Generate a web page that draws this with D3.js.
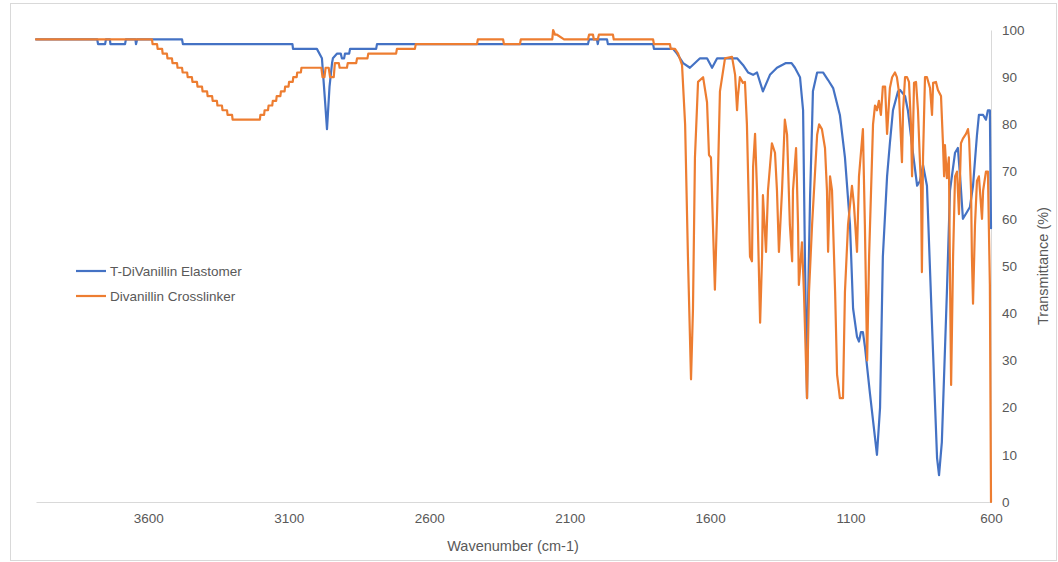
<!DOCTYPE html>
<html>
<head>
<meta charset="utf-8">
<script src="https://cdn.jsdelivr.net/npm/d3@7"></script>
<style>
  body { margin: 0; background: #fff; }
  svg { font-family: "Liberation Sans", Arial, sans-serif; }
</style>
</head>
<body>
<svg width="1058" height="562"></svg>
<script>
var seriesNames = ["T-DiVanillin Elastomer", "Divanillin Crosslinker"];
var xTicks = [3600, 3100, 2600, 2100, 1600, 1100, 600];
var yTicks = [0, 10, 20, 30, 40, 50, 60, 70, 80, 90, 100];

// T-DiVanillin Elastomer
var blueWn = [4000, 3782, 3779, 3754, 3751, 3737, 3735, 3683, 3680, 3646, 3644, 3640, 3480, 3477,
  3087, 3085, 3000, 2982, 2971, 2964, 2955, 2946, 2943, 2928, 2915, 2911, 2903, 2900, 2885, 2882,
  2789, 2786, 2035, 2031, 2003, 2000, 1997, 1967, 1964, 1803, 1800, 1732, 1718, 1696, 1672, 1654,
  1636, 1611, 1593, 1575, 1504, 1483, 1465, 1447, 1433, 1412, 1387, 1362, 1330, 1310, 1298, 1280,
  1269, 1262, 1255, 1252, 1244, 1237, 1234, 1219, 1198, 1180, 1162, 1138, 1120, 1102, 1091, 1077,
  1070, 1063, 1056, 1049, 1031, 1006, 995, 985, 970, 960, 949, 931, 924, 906, 896, 878, 863, 853,
  842, 828, 810, 792, 785, 775, 757, 746, 728, 718, 710, 700, 686, 675, 664, 650, 643, 628, 618,
  611, 604, 600];
var blueT = [98, 98, 97, 97, 98, 98, 97, 97, 98, 98, 97, 98, 98, 97,
  97, 96, 96, 94, 85, 79, 88, 93, 94, 95, 95, 94, 94, 95, 95, 96,
  96, 97, 97, 98, 98, 97, 98, 98, 97, 97, 96, 96, 95, 93, 92, 93,
  94, 94, 92, 94, 94, 92.6, 91, 90.5, 91, 87, 90.5, 92, 93, 93, 92, 90,
  83, 50, 22, 40, 65, 80, 87, 91, 91, 89.4, 87.7, 82, 73, 58.7, 41, 35,
  34, 36, 36, 33, 23, 10, 20, 52, 69, 76, 83, 87, 87.3, 86, 83, 74, 67, 68,
  71.4, 67, 37.5, 9.3, 5.7, 12.7, 44.5, 66, 74, 75, 69, 60, 61.4, 62.5, 67, 77.7, 82, 82, 81,
  83, 83, 58];

// Divanillin Crosslinker
var orangeWn = [4000, 3587, 3585, 3569, 3567, 3551, 3549, 3534, 3532, 3516, 3514, 3498, 3496,
  3480, 3478, 3462, 3460, 3445, 3443, 3427, 3425, 3409, 3407, 3391, 3389, 3373, 3371, 3356, 3354,
  3338, 3336, 3320, 3318, 3302, 3300, 3203, 3201, 3188, 3186, 3174, 3172, 3159, 3157, 3145, 3143,
  3130, 3128, 3115, 3113, 3101, 3099, 3086, 3084, 3072, 3070, 3057, 3055, 2984, 2980, 2973, 2969,
  2958, 2953, 2940, 2936, 2922, 2919, 2893, 2890, 2860, 2857, 2820, 2817, 2718, 2715, 2651, 2648,
  2430, 2427, 2337, 2334, 2277, 2274, 2162, 2159, 2152, 2145, 2120, 2035, 2031, 2017, 2014, 2000,
  1996, 1946, 1943, 1803, 1800, 1743, 1740, 1725, 1714, 1700, 1689, 1679, 1668, 1661, 1654, 1643,
  1625, 1611, 1604, 1597, 1590, 1583, 1575, 1565, 1547, 1522, 1511, 1504, 1501, 1494, 1483, 1476,
  1469, 1458, 1451, 1447, 1440, 1433, 1422, 1415, 1412, 1401, 1394, 1380, 1369, 1362, 1355, 1344,
  1334, 1326, 1316, 1308, 1305, 1294, 1287, 1284, 1273, 1266, 1255, 1248, 1237, 1219, 1212, 1202,
  1191, 1184, 1180, 1173, 1166, 1155, 1148, 1138, 1127, 1120, 1109, 1095, 1088, 1077, 1070, 1056,
  1049, 1041, 1034, 1020, 1013, 1006, 999, 992, 985, 977, 970, 960, 952, 942, 935, 928, 917, 913,
  906, 899, 892, 885, 881, 874, 867, 860, 849, 846, 842, 835, 828, 817, 810, 806, 796, 789, 778,
  771, 767, 764, 757, 750, 746, 742, 735, 728, 721, 714, 707, 700, 689, 682, 678, 671, 668, 664,
  657, 650, 643, 632, 628, 618, 611, 604, 600];
var orangeT = [98, 98, 97, 97, 96, 96, 95, 95, 94, 94, 93, 93, 92,
  92, 91, 91, 90, 90, 89, 89, 88, 88, 87, 87, 86, 86, 85, 85, 84,
  84, 83, 83, 82, 82, 81, 81, 82, 82, 83, 83, 84, 84, 85, 85, 86,
  86, 87, 87, 88, 88, 89, 89, 90, 90, 91, 91, 92, 92, 90, 90, 92,
  92, 90, 90, 93, 93, 92, 92, 93, 93, 94, 94, 95, 95, 96, 96, 97,
  97, 98, 98, 97, 97, 98, 98, 100, 99, 99, 98, 98, 99, 99, 98, 98,
  99, 99, 98, 98, 97, 97, 96, 96, 95, 92.6, 80, 52, 26, 41, 73, 89,
  90, 84.7, 73.5, 73, 58.7, 45, 62, 87, 94, 94.3, 90.5, 83, 86, 90, 88.8, 89,
  80, 52, 51, 71, 78, 66, 38, 52, 65, 53, 66, 76, 74, 66, 53, 66,
  81, 77.8, 58.7, 51, 66, 75, 58.7, 46, 55, 44.5, 22, 44.5, 58.7, 77.8, 80, 79,
  75, 66, 53, 69, 66, 44.5, 27, 22, 22, 44.5, 58.7, 67, 63, 53, 69, 79,
  58.7, 30, 52, 80, 84, 83, 85, 82, 88, 88, 78, 87.7, 90, 91, 90, 87, 72, 83,
  90, 90, 89, 80, 69, 88.8, 89, 83, 66, 48.7, 73, 90, 90, 87.7, 82, 88.8, 89, 87.3, 86,
  76, 69, 75.6, 68.6, 73, 48, 24.8, 52, 69, 70, 61, 76, 77, 78, 79, 77, 66, 52, 42,
  58.7, 68, 69, 60, 66, 70, 70, 46, 0];

var colors = ["#4472C4", "#ED7D31"];
var textColor = "#595959";

var svg = d3.select("svg"),
    margin = {top: 30, right: 67, bottom: 60, left: 36},
    width = +svg.attr("width") - margin.left - margin.right,
    height = +svg.attr("height") - margin.top - margin.bottom;

// chart border
svg.append("rect")
    .attr("x", 10.5).attr("y", 3.5)
    .attr("width", 1046).attr("height", 557)
    .attr("fill", "none")
    .attr("stroke", "#d9d9d9");

var g = svg.append("g").attr("transform", "translate(" + margin.left + "," + margin.top + ")");

var x = d3.scaleLinear().domain([4000, 600]).range([0, width]);
var y = d3.scaleLinear().domain([0, 100]).range([height, 0]);

var xAxis = g.append("g")
    .attr("transform", "translate(0," + height + ")")
    .call(d3.axisBottom(x).tickValues(xTicks).tickFormat(d3.format("d")).tickSize(0).tickPadding(11));
xAxis.select(".domain").attr("stroke", "#d9d9d9");
xAxis.selectAll("text").attr("fill", textColor).style("font-size", "13.5px")
    .style("font-family", "'Liberation Sans', Arial, sans-serif");

var yAxis = g.append("g")
    .attr("transform", "translate(" + width + ",0)")
    .call(d3.axisRight(y).tickValues(yTicks).tickFormat(d3.format("d")).tickSize(0).tickPadding(11));
yAxis.select(".domain").attr("stroke", "#d9d9d9");
yAxis.selectAll("text").attr("fill", textColor).style("font-size", "13.5px")
    .style("font-family", "'Liberation Sans', Arial, sans-serif");

var series = [
  blueWn.map(function(d, i) { return [d, blueT[i]]; }),
  orangeWn.map(function(d, i) { return [d, orangeT[i]]; })
];

var line = d3.line()
    .x(function(d) { return x(d[0]); })
    .y(function(d) { return y(d[1]); });

g.selectAll(".series")
  .data(series)
  .enter().append("path")
    .attr("class", "series")
    .attr("d", line)
    .attr("fill", "none")
    .attr("stroke", function(d, i) { return colors[i]; })
    .attr("stroke-width", 2.2)
    .attr("stroke-linejoin", "round")
    .attr("stroke-linecap", "round");

// axis titles
svg.append("text")
    .attr("x", 513).attr("y", 551)
    .attr("text-anchor", "middle")
    .attr("fill", textColor)
    .style("font-size", "14.5px")
    .text("Wavenumber (cm-1)");

svg.append("text")
    .attr("transform", "translate(1048,266) rotate(-90)")
    .attr("text-anchor", "middle")
    .attr("fill", textColor)
    .style("font-size", "14.5px")
    .text("Transmittance (%)");

// legend
var legend = svg.selectAll(".legend")
  .data(seriesNames)
  .enter().append("g")
    .attr("class", "legend")
    .attr("transform", function(d, i) { return "translate(76," + (271 + i * 25) + ")"; });

legend.append("line")
    .attr("x1", 0).attr("x2", 30)
    .attr("stroke", function(d, i) { return colors[i]; })
    .attr("stroke-width", 2.2);

legend.append("text")
    .attr("x", 34).attr("dy", "0.35em")
    .attr("fill", textColor)
    .style("font-size", "13.5px")
    .text(function(d) { return d; });
</script>
</body>
</html>
